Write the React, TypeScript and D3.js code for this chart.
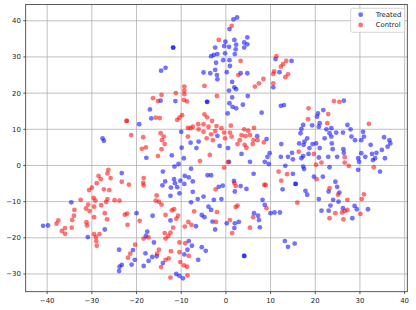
import * as d3 from 'd3';

// values (t-SNE style embedding)
const treated: [number, number][] = [
  [-27.6, 7.5], [-27.3, 6.8], [-23.3, -2.1], [-34.6, -10.2], [-40.9, -16.7], [-39.8, -16.6], [-27.1, -17.7],
  [-30.9, -19.8], [-23.9, -23.3], [-20.8, -23.4], [-20.4, -26.1], [-21.1, -27.4], [-23.3, -27.5], [-23.8, -28.0],
  [-23.9, -29.2],
  [-10.6, 0.4], [-11.5, -0.3], [-7.8, -0.9], [-14.1, -1.7], [-13.6, -4.4], [-14.2, -5.5], [-11.6, -3.8],
  [-11.4, -4.9], [-10.2, -4.2], [-9.2, -2.9], [-8.3, -3.3], [-7.4, -4.4], [-9.3, -5.1], [-10.9, -6.0],
  [-12.3, -6.1], [-12.4, -8.4], [-10.4, -7.7], [-7.4, -7.3], [-4.1, -2.7], [-3.3, -2.7], [-1.6, -5.9],
  [-7.8, -10.2], [-6.3, -9.3], [-5.0, -8.6], [-2.7, -9.5], [-3.9, -11.4], [-3.3, -12.3], [-12.4, -15.2],
  [-16.4, -13.9], [-20.0, -13.2], [-6.7, -16.8], [-5.4, -13.7], [-4.8, -14.3], [-3.0, -15.5], [-2.4, -17.7],
  [-17.6, -18.3], [-17.9, -19.5], [-16.1, -21.3], [-8.3, -20.9], [-7.6, -22.2], [-5.4, -22.6], [-4.5, -23.6],
  [-8.6, -23.3], [-9.3, -24.6], [-6.2, -26.1], [-18.0, -24.3], [-16.5, -25.3], [-17.3, -26.4], [-18.4, -27.8],
  [-15.5, -25.1], [-14.1, -27.0], [-11.1, -30.0], [-10.4, -30.5], [-9.6, -31.2],
  [-11.8, 32.6], [-11.8, 32.6], [-14.5, 26.2], [-13.5, 27.0], [-2.4, 32.6], [-3.3, 30.2], [-2.7, 30.6],
  [-1.9, 30.8], [-2.2, 28.4], [-2.4, 26.4], [-2.0, 25.0], [-1.9, 23.8], [-3.5, 25.5], [-5.0, 25.7],
  [-11.3, 17.8], [-4.2, 17.6], [-4.2, 17.6], [-14.6, 17.9], [-17.0, 15.5], [-16.7, 13.0], [-19.4, 11.4],
  [-17.8, 2.1], [-10.0, 9.3], [-7.9, 6.3], [-6.1, 6.6], [-1.9, 8.2], [-1.4, 5.4], [-9.9, 4.9], [-6.6, 4.8],
  [-12.1, 2.8], [-9.4, 2.0],
  [2.5, 40.9], [1.7, 40.4], [0.8, 37.7], [4.8, 35.4], [4.1, 34.0], [4.8, 33.5], [4.1, 32.6], [1.9, 34.7],
  [-0.1, 34.2], [2.3, 33.4], [0.7, 32.8], [-0.4, 33.0], [2.2, 32.1], [2.0, 30.8], [-0.2, 31.0], [0.8, 29.1],
  [-0.6, 29.1], [0.9, 27.5], [0.2, 25.8], [11.1, 29.4], [14.7, 28.9], [12.0, 25.8], [3.3, 25.5], [4.8, 25.5],
  [10.6, 21.6], [1.4, 23.1], [1.9, 21.6], [2.3, 21.1], [0.7, 20.7], [4.9, 19.2], [1.4, 18.8], [0.8, 17.2],
  [1.5, 16.2], [2.3, 15.8], [3.8, 16.8], [0.4, 14.4], [8.0, 14.6], [12.3, 16.5], [13.0, 16.7], [19.3, 11.1],
  [17.3, 11.2], [16.9, 10.1], [16.7, 8.9], [18.2, 7.5], [17.6, 6.6], [16.4, 6.1], [17.4, 5.7], [18.7, 4.8],
  [19.4, 5.9], [17.3, 2.6], [18.5, 3.2], [16.9, 2.0], [12.4, 5.9], [12.3, 2.4], [13.9, 2.4], [14.8, 3.5],
  [15.0, 1.7], [9.8, 3.4], [9.3, 2.4], [8.7, 1.0], [3.5, 3.2], [0.5, 4.8], [7.0, 8.1], [9.1, 7.3],
  [26.4, 17.9], [20.6, 14.4], [20.4, 13.5], [21.8, 15.3], [21.0, 11.7], [20.8, 10.7], [22.5, 10.0], [23.6, 10.3],
  [24.7, 9.1], [23.2, 8.9], [26.2, 9.1], [27.2, 11.2], [27.9, 10.0], [28.1, 8.0], [28.9, 7.0], [30.7, 9.3],
  [30.9, 8.0], [30.3, 7.0], [32.4, 5.7], [35.4, 7.8], [36.6, 7.0], [36.8, 6.1], [36.2, 5.2], [34.9, 4.3],
  [33.7, 3.5], [32.7, 3.2], [33.4, 2.0], [32.9, 1.5], [35.6, 2.0], [31.2, 2.4], [30.3, 3.4], [29.6, 2.0],
  [29.8, 1.0], [23.6, 8.0], [23.7, 6.1], [23.9, 4.5], [22.1, 7.5], [20.2, 6.1], [21.0, 4.8], [26.3, 4.5],
  [26.4, 3.5], [24.9, 2.4], [22.9, 2.4], [20.8, 2.2],
  [23.2, -0.5], [29.6, -1.2], [34.5, -1.7], [19.7, -3.1], [21.7, -3.1], [24.5, -4.5], [24.9, -5.9], [23.0, -7.2],
  [25.4, -7.5], [24.0, -9.5], [25.2, -10.0], [23.4, -11.1], [21.4, -12.5], [23.0, -12.5], [26.2, -11.8],
  [28.8, -11.2], [29.3, -12.1], [31.8, -12.1], [28.3, -14.6], [20.8, -9.3],
  [0.7, 1.0], [5.4, 1.0], [9.6, 0.4], [13.3, -0.1], [15.0, -2.3], [17.3, -0.3], [17.5, -1.0], [15.6, -5.1],
  [15.6, -5.1], [12.7, -6.6], [17.8, -7.0], [18.2, -8.1], [6.2, -2.3], [1.8, -4.3], [2.0, -7.2], [3.3, -5.7],
  [4.6, -6.5], [-1.0, -9.3], [8.2, -9.5], [8.7, -10.9], [6.3, -13.2], [7.2, -13.9], [7.4, -15.1], [10.0, -13.2],
  [10.9, -13.0], [12.1, -13.0], [7.6, -17.1], [0.2, -16.0], [2.0, -16.0], [2.9, -15.6], [1.9, -17.3],
  [13.2, -20.9], [13.9, -22.5], [15.4, -21.6], [4.1, -25.0], [4.1, -25.0], [-0.7, -5.6],
];

const control: [number, number][] = [
  [-22.2, 12.3], [-22.2, 12.3], [-21.2, 8.4], [-26.3, -1.2], [-28.5, -2.9], [-28.0, -3.8], [-26.5, -2.2],
  [-25.8, -3.5], [-23.3, -4.5], [-21.7, -5.3], [-28.9, -4.9], [-30.0, -6.1], [-30.6, -6.8], [-27.3, -6.6],
  [-26.1, -6.8], [-29.6, -9.0], [-29.2, -9.7], [-26.5, -9.3], [-26.8, -10.1], [-24.9, -9.6], [-23.8, -9.7],
  [-32.5, -9.5], [-30.8, -10.8], [-31.3, -11.9], [-30.5, -12.6], [-29.5, -11.4], [-27.9, -11.0], [-33.9, -12.3],
  [-34.0, -13.9], [-34.4, -15.1], [-34.5, -17.2], [-36.0, -17.3], [-37.5, -15.2], [-37.9, -16.1], [-36.7, -18.1],
  [-36.0, -18.9], [-27.1, -13.2], [-29.5, -14.3], [-26.6, -14.9], [-22.6, -13.6], [-22.1, -13.3], [-22.0, -16.4],
  [-31.2, -15.7], [-31.1, -16.6], [-29.5, -19.0], [-28.3, -19.0], [-29.1, -19.8], [-29.0, -20.9], [-28.9, -22.2],
  [-20.3, -21.9], [-21.4, -24.4], [-21.9, -25.5],
  [-18.4, -3.5], [-18.5, -4.8], [-18.4, -5.5], [-2.3, -6.6], [-15.5, -8.3], [-15.7, -9.7], [-15.0, -10.0],
  [-14.4, -10.8], [-2.0, -12.9], [-7.1, -12.7], [-11.6, -12.1], [-12.1, -12.4], [-13.5, -13.7], [-10.7, -13.9],
  [-11.1, -14.7], [-19.3, -15.3], [-8.4, -15.6], [-7.7, -16.4], [-9.2, -16.9], [-2.2, -15.6], [-11.8, -17.2],
  [-12.4, -18.6], [-13.7, -18.7], [-12.9, -19.5], [-13.5, -20.2], [-18.4, -20.2], [-17.3, -19.9], [-10.4, -21.3],
  [-9.1, -21.5], [-15.0, -23.3], [-15.4, -24.4], [-12.3, -23.7], [-10.4, -24.0], [-8.3, -25.0], [-13.5, -26.1],
  [-12.8, -25.7], [-14.5, -28.1], [-10.2, -26.7], [-9.4, -27.6], [-8.7, -28.0], [-8.6, -30.4], [-12.4, -31.0],
  [-1.6, 34.7], [-4.8, 22.0], [-9.3, 21.8], [-9.3, 20.7], [-9.3, 19.7], [-11.2, 20.0], [-9.4, 18.1], [-8.7, 17.7],
  [-2.0, 19.2], [-14.4, 19.5], [-15.2, 17.8], [-16.3, 18.6], [-15.7, 13.2], [-14.8, 13.1], [-9.8, 13.9],
  [-10.4, 13.2], [-10.9, 12.6], [-4.8, 14.1], [-4.2, 13.3], [-3.1, 12.3], [-5.0, 11.4], [-6.2, 11.4], [-7.4, 10.7],
  [-7.9, 10.3], [-8.5, 10.4], [-6.1, 10.0], [-5.0, 9.3], [-3.9, 10.7], [-2.1, 10.9], [-2.4, 9.5], [-14.6, 8.9],
  [-13.9, 8.0], [-14.3, 7.0], [-13.7, 5.9], [-14.4, 4.5], [-18.5, 7.8], [-18.8, 4.6], [-17.9, 5.0], [-15.2, 2.6],
  [-8.5, 8.0], [-4.3, 7.5], [-2.9, 7.0], [-3.3, 8.6], [-3.6, 2.9], [-5.8, 1.2],
  [1.3, 38.6], [3.3, 28.9], [11.3, 30.2], [13.5, 28.9], [12.8, 28.0], [12.3, 27.3], [10.8, 26.0], [10.6, 25.3],
  [13.9, 25.2], [13.3, 24.4], [2.8, 25.0], [8.4, 23.9], [7.4, 22.7], [6.5, 21.8], [10.6, 22.7], [18.5, 15.8],
  [18.4, 12.8], [16.3, 3.8], [1.1, 11.0], [-1.0, 10.3], [-0.4, 9.1], [0.9, 9.1], [-0.2, 7.5], [1.3, 8.0],
  [4.1, 10.0], [5.0, 9.6], [6.3, 10.4], [3.5, 8.4], [4.4, 8.1], [5.4, 8.4], [3.1, 7.0], [2.6, 5.9], [4.2, 5.7],
  [4.6, 4.9], [6.0, 5.9], [6.2, 7.0], [7.1, 7.0], [8.5, 6.4],
  [24.2, 17.8], [25.4, 17.6], [22.9, 14.2], [32.0, 11.5], [22.7, 11.7], [26.6, 2.3], [19.7, 3.2], [21.4, 0.8],
  [26.6, 0.8],
  [20.2, 0.2], [27.5, -0.1], [33.1, -0.5], [20.3, -3.8], [23.2, -6.3], [25.1, -8.1], [30.9, -8.0], [30.4, -9.3],
  [27.2, -9.5], [24.5, -13.2], [26.0, -13.0], [26.6, -12.6], [27.2, -12.3], [30.1, -13.4], [23.2, -14.6],
  [26.3, -14.9],
  [-0.4, -0.6], [0.5, 0.9], [11.8, -1.7], [13.7, -2.4], [12.4, -4.2], [16.0, -10.3], [1.9, -4.9], [2.2, -5.7],
  [8.6, -5.4], [8.9, -5.4], [9.1, -11.8], [2.6, -11.1], [2.2, -11.5], [6.1, -14.3], [5.4, -17.2], [0.9, -15.1],
  [1.4, -18.7],
];

const xTicks = [-40, -30, -20, -10, 0, 10, 20, 30, 40];
const yTicks = [-30, -20, -10, 0, 10, 20, 30, 40];
const xDomain: [number, number] = [-44.8, 40.6];
const yDomain: [number, number] = [-34.9, 44.5];
const seriesNames = ['Treated', 'Control'];
const seriesColors = ['blue', 'red'];

const W = 416;
const H = 310;
const margin = { top: 4.5, right: 8.7, bottom: 18.3, left: 25.7 };
const font = 'DejaVu Sans, sans-serif';
const fmt = (v: number) => String(v).replace('-', '\u2212');

export default function App() {
  const x = d3.scaleLinear().domain(xDomain).range([margin.left, W - margin.right]);
  const y = d3.scaleLinear().domain(yDomain).range([H - margin.bottom, margin.top]);
  const [x0, x1] = x.range();
  const [y0, y1] = y.range();
  const r = 2.4;
  const alpha = 0.55;

  return (
    <svg width={W} height={H} style={{ position: 'absolute', left: 0, top: 0, background: '#fff' }}
      fontFamily={font}>
      <defs>
        <clipPath id="plot">
          <rect x={x0} y={y1} width={x1 - x0} height={y0 - y1} />
        </clipPath>
      </defs>
      <rect x={0} y={0} width={W} height={H} fill="#fff" />

      {/* grid */}
      <g stroke="#b0b0b0" strokeWidth={0.8}>
        {xTicks.map(t => <line key={'gx' + t} x1={x(t)} x2={x(t)} y1={y0} y2={y1} />)}
        {yTicks.map(t => <line key={'gy' + t} x1={x0} x2={x1} y1={y(t)} y2={y(t)} />)}
      </g>

      {/* points */}
      <g clipPath="url(#plot)">
        {treated.map((d, i) => (
          <circle key={'t' + i} cx={x(d[0])} cy={y(d[1])} r={r} fill={seriesColors[0]} fillOpacity={alpha} />
        ))}
        {control.map((d, i) => (
          <circle key={'c' + i} cx={x(d[0])} cy={y(d[1])} r={r} fill={seriesColors[1]} fillOpacity={alpha} />
        ))}
      </g>

      {/* spines */}
      <rect x={x0} y={y1} width={x1 - x0} height={y0 - y1} fill="none" stroke="#333" strokeWidth={0.8} />

      {/* x axis */}
      <g fontSize={6.9} fill="#222" textAnchor="middle">
        {xTicks.map(t => (
          <g key={'xt' + t}>
            <line x1={x(t)} x2={x(t)} y1={y0} y2={y0 + 2.4} stroke="#333" strokeWidth={0.8} />
            <text x={x(t)} y={y0 + 11.3}>{fmt(t)}</text>
          </g>
        ))}
      </g>

      {/* y axis */}
      <g fontSize={6.9} fill="#222" textAnchor="end">
        {yTicks.map(t => (
          <g key={'yt' + t}>
            <line x1={x0 - 2.4} x2={x0} y1={y(t)} y2={y(t)} stroke="#333" strokeWidth={0.8} />
            <text x={x0 - 4.8} y={y(t)} dy="0.36em">{fmt(t)}</text>
          </g>
        ))}
      </g>

      {/* legend */}
      <g transform={`translate(${x1 - 56.6},${y1 + 3.8})`}>
        <rect x={0} y={0} width={54} height={24} rx={2} fill="#fff" fillOpacity={0.8} stroke="#cccccc" strokeWidth={0.8} />
        {seriesNames.map((name, i) => (
          <g key={name} transform={`translate(0,${6.4 + i * 10.3})`}>
            <circle cx={10} cy={0} r={r} fill={seriesColors[i]} fillOpacity={alpha} />
            <text x={25} y={0} dy="0.36em" fontSize={6.9} fill="#222">{name}</text>
          </g>
        ))}
      </g>
    </svg>
  );
}
